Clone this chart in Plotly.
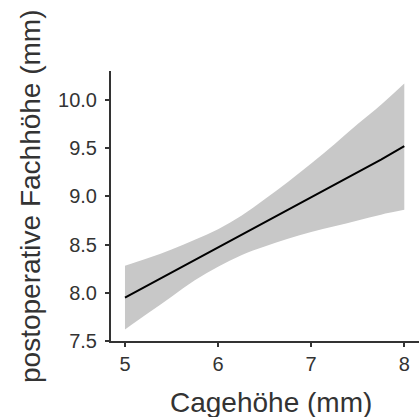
import plotly.graph_objects as go

# Data
cage_height = [5.0, 5.25, 5.5, 5.75, 6.0, 6.25, 6.5, 6.75, 7.0, 7.25, 7.5, 7.75, 8.0]
fit = [7.95, 8.08, 8.21, 8.34, 8.47, 8.60, 8.73, 8.86, 8.99, 9.12, 9.25, 9.38, 9.52]
upper = [8.28, 8.36, 8.45, 8.55, 8.66, 8.80, 8.97, 9.15, 9.34, 9.54, 9.75, 9.95, 10.17]
lower = [7.62, 7.79, 7.96, 8.13, 8.27, 8.39, 8.48, 8.56, 8.63, 8.69, 8.75, 8.81, 8.86]

x_ticks = [5, 6, 7, 8]
y_ticks = [7.5, 8.0, 8.5, 9.0, 9.5, 10.0]
y_tick_text = ["7.5", "8.0", "8.5", "9.0", "9.5", "10.0"]

FONT = "Liberation Sans, Arial, sans-serif"
TXT = "#333333"

fig = go.Figure()
fig.add_trace(go.Scatter(x=cage_height, y=upper, mode="lines", line=dict(width=0, shape="spline"),
                         showlegend=False, hoverinfo="skip"))
fig.add_trace(go.Scatter(x=cage_height, y=lower, mode="lines", line=dict(width=0, shape="spline"),
                         fill="tonexty", fillcolor="rgb(200,200,200)",
                         showlegend=False, hoverinfo="skip"))
fig.add_trace(go.Scatter(x=cage_height, y=fit, mode="lines",
                         line=dict(color="black", width=2), showlegend=False))

fig.update_layout(
    width=419, height=417,
    margin=dict(l=111, r=0, t=71, b=76),
    paper_bgcolor="white", plot_bgcolor="white",
    font=dict(family=FONT, color=TXT),
    xaxis=dict(range=[4.85, 8.158], tickvals=x_ticks, ticks="outside", ticklen=4,
               tickwidth=1.5, tickcolor="#333333", showline=True, linecolor="#333333",
               linewidth=2, showgrid=False, zeroline=False,
               tickfont=dict(size=20, color=TXT, family=FONT)),
    yaxis=dict(range=[7.5, 10.3], tickvals=y_ticks, ticktext=y_tick_text,
               ticks="outside", ticklen=4, tickwidth=1.5, tickcolor="#333333",
               showline=True, linecolor="#333333", linewidth=2, showgrid=False,
               zeroline=False, ticklabelstandoff=4,
               tickfont=dict(size=20, color=TXT, family=FONT)),
    annotations=[
        dict(text="Cagehöhe (mm)", xref="paper", yref="paper", x=0.519, y=-0.226,
             xanchor="center", yanchor="middle", showarrow=False,
             font=dict(size=28, color=TXT, family=FONT)),
        dict(text="postoperative Fachhöhe (mm)", xref="paper", yref="paper",
             x=-0.263, y=0.537, xanchor="center", yanchor="middle", textangle=-90,
             showarrow=False, font=dict(size=28, color=TXT, family=FONT)),
    ],
)

fig.write_html("out.html")
